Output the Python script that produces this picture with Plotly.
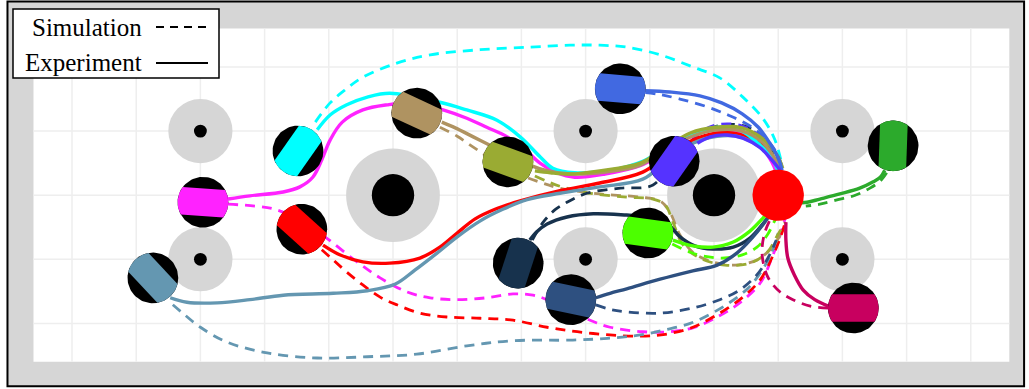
import numpy as np
import plotly.graph_objects as go

# ---------------- arena (grid units, y grows downward) ----------------
GRID_X = list(range(0, 15))
GRID_Y = list(range(0, 5))
ARENA_INNER = [-0.6, 14.6, -0.6, 4.6]
ARENA_OUTER = [-1.005, 14.83, -1.02, 4.98]

SMALL_OBS_X = [2, 2, 8, 8, 12, 12]
SMALL_OBS_Y = [1, 3, 1, 3, 1, 3]
BIG_OBS_X = [5, 10]
BIG_OBS_Y = [2, 2]

TARGET_X, TARGET_Y = 11.0, 2.0

# ---------------- robots ----------------
ROBOT_NAMES = ["magenta", "red", "steel", "cyan", "tan", "olive", "navy",
               "darkblue", "royal", "purple", "green", "forest", "crimson"]
ROBOT_X = [2.04, 3.58, 1.26, 3.52, 5.37, 6.79, 6.95, 7.77, 8.54, 9.38, 8.97, 12.79, 12.17]
ROBOT_Y = [2.11, 2.53, 3.29, 1.31, 0.72, 1.48, 3.06, 3.63, 0.34, 1.47, 2.59, 1.23, 3.76]
ROBOT_HEADING = [4, 42, 47, -55, 25, 20, -72, 12, 5, -55, 8, 92, 0]
ROBOT_COLORS = ["#ff22ff", "#ff0000", "#6497b1", "#00ffff", "#af9361", "#9aab33", "#17324d",
                "#2e5080", "#4169e1", "#5533ff", "#4cff00", "#2caa2c", "#c8005f"]

# ---------------- trajectories: experiment (solid) / simulation (dashed) ----------------
MAGENTA_EXP_X = [2.43, 2.77, 3.29, 3.55, 3.75, 3.89, 4.02, 4.21, 4.53, 4.91, 5.34, 5.78, 6.15, 6.46, 6.78, 7.06, 7.29, 7.55, 7.83, 8.30, 8.85, 9.24, 9.63, 10.02, 10.40, 10.72, 10.90, 10.97]
MAGENTA_EXP_Y = [2.06, 2.01, 1.95, 1.87, 1.72, 1.45, 1.14, 0.86, 0.67, 0.59, 0.56, 0.67, 0.80, 0.94, 1.09, 1.29, 1.50, 1.65, 1.72, 1.67, 1.54, 1.33, 1.09, 0.98, 1.03, 1.23, 1.48, 1.64]
MAGENTA_SIM_X = [2.43, 2.85, 3.16, 3.55, 3.86, 4.07, 4.44, 4.80, 5.22, 5.58, 6.00, 6.46, 6.87, 7.18, 7.40, 7.76, 8.07, 8.38, 8.89, 9.31, 9.67, 10.05, 10.40, 10.72, 10.92, 11.03, 11.11]
MAGENTA_SIM_Y = [2.14, 2.17, 2.22, 2.39, 2.59, 2.75, 3.04, 3.29, 3.51, 3.60, 3.63, 3.60, 3.54, 3.56, 3.63, 3.81, 3.95, 4.06, 4.13, 4.13, 4.07, 3.90, 3.68, 3.37, 2.93, 2.62, 2.36]

RED_EXP_X = [3.91, 4.17, 4.53, 4.95, 5.42, 5.73, 6.00, 6.28, 6.59, 6.98, 7.60, 8.22, 8.89, 9.28, 9.67, 10.05, 10.40, 10.72, 10.92, 11.04]
RED_EXP_Y = [2.78, 2.93, 3.04, 3.06, 2.98, 2.81, 2.59, 2.37, 2.22, 2.09, 1.93, 1.81, 1.64, 1.37, 1.14, 1.03, 1.05, 1.20, 1.40, 1.58]
RED_SIM_X = [3.89, 4.07, 4.28, 4.53, 4.80, 5.06, 5.42, 5.84, 6.36, 6.87, 7.40, 7.87, 8.38, 8.85, 9.24, 9.67, 10.09, 10.45, 10.72, 10.90, 11.03, 11.11]
RED_SIM_Y = [2.85, 3.01, 3.20, 3.40, 3.59, 3.71, 3.84, 3.90, 3.92, 3.95, 4.06, 4.13, 4.18, 4.20, 4.17, 4.06, 3.84, 3.59, 3.32, 2.98, 2.67, 2.42]

STEEL_EXP_X = [1.53, 1.79, 2.26, 2.77, 3.29, 4.07, 4.60, 5.03, 5.34, 5.69, 6.00, 6.36, 6.71, 7.09, 7.60, 8.22, 8.89, 9.28, 9.67, 10.05, 10.40, 10.69, 10.89, 11.01]
STEEL_EXP_Y = [3.60, 3.67, 3.68, 3.63, 3.56, 3.53, 3.49, 3.39, 3.17, 2.90, 2.65, 2.40, 2.22, 2.07, 1.97, 1.87, 1.75, 1.45, 1.19, 1.08, 1.09, 1.23, 1.42, 1.58]
STEEL_SIM_X = [1.57, 1.76, 2.00, 2.41, 3.04, 3.82, 4.60, 5.37, 6.15, 6.87, 7.80, 8.38, 8.85, 9.24, 9.63, 9.97, 10.25, 10.53, 10.75, 10.90, 11.00]
STEEL_SIM_Y = [3.71, 3.87, 4.06, 4.29, 4.46, 4.54, 4.52, 4.48, 4.35, 4.27, 4.26, 4.23, 4.18, 4.10, 4.00, 3.84, 3.67, 3.45, 3.17, 2.89, 2.59]

CYAN_EXP_X = [3.82, 4.02, 4.28, 4.60, 4.95, 5.73, 6.15, 6.62, 6.98, 7.29, 7.49, 7.83, 8.38, 8.89, 9.24, 9.63, 10.05, 10.40, 10.72, 10.92, 11.00]
CYAN_EXP_Y = [0.98, 0.75, 0.59, 0.47, 0.41, 0.55, 0.67, 0.83, 1.09, 1.40, 1.58, 1.65, 1.61, 1.47, 1.26, 1.06, 0.94, 0.98, 1.22, 1.45, 1.64]
CYAN_SIM_X = [3.79, 4.02, 4.25, 4.53, 5.06, 5.58, 6.36, 7.13, 7.76, 8.22, 8.64, 9.16, 9.67, 10.09, 10.45, 10.76, 10.95, 11.06]
CYAN_SIM_Y = [0.86, 0.56, 0.36, 0.16, -0.06, -0.19, -0.27, -0.31, -0.34, -0.34, -0.31, -0.19, 0.00, 0.17, 0.47, 0.80, 1.14, 1.53]

TAN_EXP_X = [5.76, 5.97, 6.25, 6.51, 6.82, 7.13, 7.41, 7.76, 8.30, 8.85, 9.24, 9.66, 10.05, 10.44, 10.75, 10.93, 11.03]
TAN_EXP_Y = [0.86, 0.95, 1.09, 1.22, 1.37, 1.53, 1.62, 1.67, 1.64, 1.53, 1.29, 1.08, 0.98, 1.00, 1.17, 1.40, 1.58]
TAN_SIM_X = [5.73, 6.00, 6.25, 6.51, 6.82, 7.24, 7.60, 8.22, 8.85, 9.16, 9.31, 9.47, 9.67, 9.97, 10.33, 10.67, 10.90, 11.06]
TAN_SIM_Y = [0.94, 1.08, 1.25, 1.42, 1.61, 1.78, 1.89, 1.98, 2.03, 2.09, 2.26, 2.62, 2.89, 3.04, 3.09, 3.01, 2.82, 2.57]

OLIVE_EXP_X = [7.21, 7.45, 7.76, 8.22, 8.85, 9.24, 9.63, 10.02, 10.44, 10.76, 10.98, 11.07]
OLIVE_EXP_Y = [1.62, 1.65, 1.67, 1.62, 1.50, 1.26, 1.03, 0.94, 0.95, 1.12, 1.37, 1.58]
OLIVE_SIM_X = [7.21, 7.60, 8.07, 8.64, 9.05, 9.24, 9.36, 9.52, 9.78, 10.17, 10.56, 10.83, 10.98, 11.11]
OLIVE_SIM_Y = [1.70, 1.86, 1.97, 2.03, 2.06, 2.15, 2.42, 2.78, 2.98, 3.09, 3.06, 2.89, 2.64, 2.42]

NAVY_EXP_X = [7.13, 7.24, 7.40, 7.71, 8.12, 8.64, 9.00, 9.28, 9.47, 9.70, 9.98, 10.30, 10.56, 10.76, 10.90]
NAVY_EXP_Y = [2.70, 2.57, 2.45, 2.34, 2.29, 2.31, 2.34, 2.45, 2.65, 2.79, 2.84, 2.81, 2.67, 2.45, 2.26]
NAVY_SIM_X = [7.17, 7.34, 7.52, 7.71, 8.02, 8.54, 9.05, 9.42, 9.78, 10.17, 10.53, 10.79, 10.97, 11.04]
NAVY_SIM_Y = [2.70, 2.42, 2.23, 2.11, 1.97, 1.89, 1.84, 1.37, 1.03, 0.90, 0.94, 1.14, 1.40, 1.58]

DARKBLUE_EXP_X = [8.16, 8.38, 8.64, 9.16, 9.67, 10.05, 10.36, 10.59, 10.79, 10.90]
DARKBLUE_EXP_Y = [3.60, 3.53, 3.46, 3.31, 3.18, 3.09, 2.90, 2.67, 2.42, 2.26]
DARKBLUE_SIM_X = [8.16, 8.38, 8.64, 9.16, 9.67, 10.09, 10.40, 10.67, 10.84, 10.97]
DARKBLUE_SIM_Y = [3.71, 3.78, 3.82, 3.84, 3.76, 3.63, 3.48, 3.24, 2.98, 2.70]

ROYAL_EXP_X = [8.93, 9.31, 9.78, 10.12, 10.44, 10.69, 10.87, 11.00, 11.06]
ROYAL_EXP_Y = [0.37, 0.39, 0.45, 0.56, 0.73, 0.94, 1.19, 1.42, 1.61]
ROYAL_SIM_X = [8.93, 9.16, 9.47, 9.86, 10.22, 10.53, 10.79, 10.97, 11.07]
ROYAL_SIM_Y = [0.40, 0.43, 0.50, 0.61, 0.75, 0.90, 1.10, 1.33, 1.58]

PURPLE_EXP_X = [9.74, 9.94, 10.20, 10.45, 10.72, 10.90, 11.03]
PURPLE_EXP_Y = [1.19, 1.09, 1.06, 1.11, 1.26, 1.45, 1.61]
PURPLE_SIM_X = [9.66, 9.86, 10.12, 10.44, 10.72, 10.92, 11.06]
PURPLE_SIM_Y = [1.14, 0.97, 0.89, 0.92, 1.08, 1.31, 1.54]

GREEN_EXP_X = [9.36, 9.67, 9.98, 10.30, 10.56, 10.76, 10.87]
GREEN_EXP_Y = [2.70, 2.79, 2.81, 2.73, 2.56, 2.36, 2.23]
GREEN_SIM_X = [9.35, 9.63, 9.89, 10.17, 10.44, 10.67, 10.83, 10.95, 11.03]
GREEN_SIM_Y = [2.76, 2.89, 2.96, 2.98, 2.93, 2.81, 2.62, 2.39, 2.23]

FOREST_EXP_X = [12.66, 12.59, 12.48, 12.27, 11.96, 11.65, 11.45, 11.26]
FOREST_EXP_Y = [1.61, 1.72, 1.79, 1.89, 1.98, 2.06, 2.11, 2.12]
FOREST_SIM_X = [12.69, 12.59, 12.43, 12.20, 11.93, 11.65, 11.43]
FOREST_SIM_Y = [1.65, 1.78, 1.89, 2.00, 2.07, 2.14, 2.17]

CRIMSON_EXP_X = [11.78, 11.57, 11.39, 11.25, 11.15, 11.12, 11.12]
CRIMSON_EXP_Y = [3.73, 3.63, 3.48, 3.24, 2.98, 2.70, 2.42]
CRIMSON_SIM_X = [11.78, 11.50, 11.23, 11.03, 10.84, 10.75, 10.78, 10.87]
CRIMSON_SIM_Y = [3.76, 3.73, 3.63, 3.51, 3.28, 2.93, 2.62, 2.39]

EXP_PATHS = [(MAGENTA_EXP_X, MAGENTA_EXP_Y), (RED_EXP_X, RED_EXP_Y), (STEEL_EXP_X, STEEL_EXP_Y),
             (CYAN_EXP_X, CYAN_EXP_Y), (TAN_EXP_X, TAN_EXP_Y), (OLIVE_EXP_X, OLIVE_EXP_Y),
             (NAVY_EXP_X, NAVY_EXP_Y), (DARKBLUE_EXP_X, DARKBLUE_EXP_Y), (ROYAL_EXP_X, ROYAL_EXP_Y),
             (PURPLE_EXP_X, PURPLE_EXP_Y), (GREEN_EXP_X, GREEN_EXP_Y), (FOREST_EXP_X, FOREST_EXP_Y),
             (CRIMSON_EXP_X, CRIMSON_EXP_Y)]
SIM_PATHS = [(MAGENTA_SIM_X, MAGENTA_SIM_Y), (RED_SIM_X, RED_SIM_Y), (STEEL_SIM_X, STEEL_SIM_Y),
             (CYAN_SIM_X, CYAN_SIM_Y), (TAN_SIM_X, TAN_SIM_Y), (OLIVE_SIM_X, OLIVE_SIM_Y),
             (NAVY_SIM_X, NAVY_SIM_Y), (DARKBLUE_SIM_X, DARKBLUE_SIM_Y), (ROYAL_SIM_X, ROYAL_SIM_Y),
             (PURPLE_SIM_X, PURPLE_SIM_Y), (GREEN_SIM_X, GREEN_SIM_Y), (FOREST_SIM_X, FOREST_SIM_Y),
             (CRIMSON_SIM_X, CRIMSON_SIM_Y)]

LEGEND_LABELS = ["Simulation", "Experiment"]

# ---------------- style ----------------
GRAY = "#d6d6d6"
GRID_COLOR = "#eeeeee"
ROBOT_R = 0.395
BAND_HALF = 0.215
SMALL_R, SMALL_CORE = 0.5, 0.1
BIG_R, BIG_CORE = 0.73, 0.33
TARGET_R = 0.4

W, H = 1029, 389
PX = 64.2
XR = [-72 / PX, (W - 72) / PX]
YR = [(H - 67) / 64.1, -67 / 64.1]

fig = go.Figure()
shapes = []

# walls + arena floor
shapes.append(dict(type="rect", xref="x", yref="y", x0=ARENA_OUTER[0], x1=ARENA_OUTER[1],
                   y0=ARENA_OUTER[2], y1=ARENA_OUTER[3], fillcolor=GRAY,
                   line=dict(color="black", width=2), layer="below"))
shapes.append(dict(type="rect", xref="x", yref="y", x0=ARENA_INNER[0], x1=ARENA_INNER[1],
                   y0=ARENA_INNER[2], y1=ARENA_INNER[3], fillcolor="white",
                   line=dict(width=0), layer="below"))
for gx in GRID_X:
    shapes.append(dict(type="line", xref="x", yref="y", x0=gx, x1=gx, y0=ARENA_INNER[2],
                       y1=ARENA_INNER[3], line=dict(color=GRID_COLOR, width=1.5), layer="below"))
for gy in GRID_Y:
    shapes.append(dict(type="line", xref="x", yref="y", x0=ARENA_INNER[0], x1=ARENA_INNER[1],
                       y0=gy, y1=gy, line=dict(color=GRID_COLOR, width=1.5), layer="below"))


def circ(cx, cy, r, color):
    return dict(type="circle", xref="x", yref="y", x0=cx - r, x1=cx + r, y0=cy - r, y1=cy + r,
                fillcolor=color, line=dict(width=0), layer="below")


for ox, oy in zip(SMALL_OBS_X, SMALL_OBS_Y):
    shapes.append(circ(ox, oy, SMALL_R, GRAY))
    shapes.append(circ(ox, oy, SMALL_CORE, "black"))
for ox, oy in zip(BIG_OBS_X, BIG_OBS_Y):
    shapes.append(circ(ox, oy, BIG_R, GRAY))
    shapes.append(circ(ox, oy, BIG_CORE, "black"))

# trajectories
for (xs, ys), col in zip(SIM_PATHS, ROBOT_COLORS):
    fig.add_trace(go.Scatter(x=xs, y=ys, mode="lines", line=dict(color=col, width=2.8, dash="10px,7px",
                             shape="spline", smoothing=1.0), hoverinfo="skip"))
for (xs, ys), col in zip(EXP_PATHS, ROBOT_COLORS):
    fig.add_trace(go.Scatter(x=xs, y=ys, mode="lines", line=dict(color=col, width=3.4,
                             shape="spline", smoothing=1.0), hoverinfo="skip"))

# target
t = np.linspace(0, 2 * np.pi, 90)
fig.add_trace(go.Scatter(x=TARGET_X + TARGET_R * np.cos(t), y=TARGET_Y + TARGET_R * np.sin(t),
                         mode="lines", fill="toself", fillcolor="#ff0000", line=dict(width=0),
                         hoverinfo="skip"))

# robots: black disc with coloured band along heading
alpha = np.arcsin(BAND_HALF / ROBOT_R)
for rx, ry, hd, col in zip(ROBOT_X, ROBOT_Y, ROBOT_HEADING, ROBOT_COLORS):
    fig.add_trace(go.Scatter(x=rx + ROBOT_R * np.cos(t), y=ry + ROBOT_R * np.sin(t), mode="lines",
                             fill="toself", fillcolor="black", line=dict(width=0), hoverinfo="skip"))
    th = np.radians(hd)
    a1 = np.linspace(th - alpha, th + alpha, 24)
    a2 = np.linspace(th + np.pi - alpha, th + np.pi + alpha, 24)
    ang = np.concatenate([a1, a2, a1[:1]])
    fig.add_trace(go.Scatter(x=rx + ROBOT_R * np.cos(ang), y=ry + ROBOT_R * np.sin(ang), mode="lines",
                             fill="toself", fillcolor=col, line=dict(width=0), hoverinfo="skip"))

# legend box (paper coords)
shapes.append(dict(type="rect", xref="paper", yref="paper", x0=13 / W, x1=219 / W,
                   y0=1 - 78 / H, y1=1 - 9 / H, fillcolor="white",
                   line=dict(color="black", width=1.5), layer="above"))
shapes.append(dict(type="line", xref="paper", yref="paper", x0=156 / W, x1=208 / W,
                   y0=1 - 27 / H, y1=1 - 27 / H, line=dict(color="black", width=2, dash="8px,6px"),
                   layer="above"))
shapes.append(dict(type="line", xref="paper", yref="paper", x0=156 / W, x1=208 / W,
                   y0=1 - 63 / H, y1=1 - 63 / H, line=dict(color="black", width=2), layer="above"))
annotations = []
for lab, py in zip(LEGEND_LABELS, [27, 63]):
    annotations.append(dict(text=lab, xref="paper", yref="paper", x=144 / W, y=1 - py / H,
                            xanchor="right", yanchor="middle", showarrow=False,
                            font=dict(family="Liberation Serif", size=25, color="black")))

fig.update_layout(width=W, height=H, margin=dict(l=0, r=0, t=0, b=0),
                  paper_bgcolor="white", plot_bgcolor="white", showlegend=False,
                  xaxis=dict(range=XR, visible=False, fixedrange=True),
                  yaxis=dict(range=YR, visible=False, fixedrange=True),
                  shapes=shapes, annotations=annotations)
fig.write_html("out.html")
